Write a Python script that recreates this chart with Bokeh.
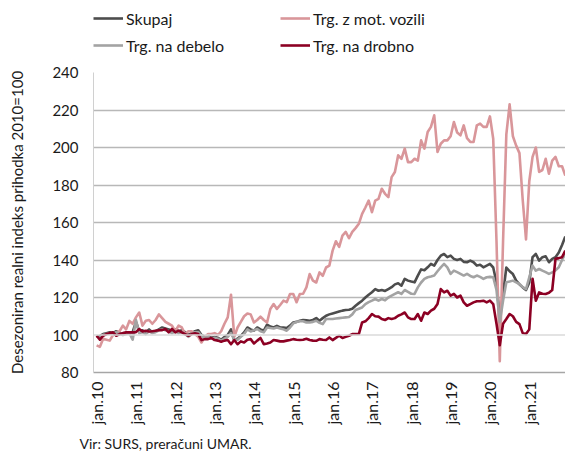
import math
from bokeh.plotting import figure
from bokeh.layouts import column
from bokeh.models import FixedTicker, Range1d, Legend, LegendItem, Span, Title
from bokeh.embed import file_html
from bokeh.resources import INLINE

# ---- data (monthly, jan 2010 - dec 2021) ----
months = list(range(144))
tick_pos = [0, 12, 24, 36, 48, 60, 72, 84, 96, 108, 120, 132]
tick_labels = ["jan.10", "jan.11", "jan.12", "jan.13", "jan.14", "jan.15",
               "jan.16", "jan.17", "jan.18", "jan.19", "jan.20", "jan.21"]
y_ticks = [80, 100, 120, 140, 160, 180, 200, 220, 240]

skupaj = [
    99, 99.5, 100.5, 101, 101.5, 101, 102, 101, 100.5, 101, 101.5, 101.5,
    107, 102, 102.5, 101.5, 103, 101.5, 102, 103, 104, 103.5, 103, 102,
    103, 102, 102.5, 101.5, 100, 101, 102, 102.5, 100, 99, 99.5, 98.5,
    99, 98.5, 97.5, 99, 100, 103, 97, 98, 99.5, 101.4, 104, 103,
    102.3, 104, 103, 102.3, 105.5, 104.5, 104, 104.9, 104, 104, 103.7, 105,
    106.7, 107, 107.6, 108, 107.8, 107.6, 108, 109, 107.6, 109, 110.3, 111,
    111.5, 112, 112.5, 113, 113.3, 113.5, 114, 115.6, 117, 118.3, 120, 121.5,
    122.8, 124.5, 123.6, 124, 123.5, 124.5, 125.5, 127, 127.6, 126.3, 129.9, 129,
    128.5, 128.1, 131.7, 135, 134.5, 136.1, 137.9, 137, 140, 142.3, 143.2, 141.5,
    142.3, 140.6, 140, 140.6, 139, 138.8, 139.7, 138.8, 137, 137.5, 136.1, 137,
    137.9, 136, 128, 109, 122, 136, 134, 132.5, 129, 127, 125.4, 124,
    128, 141.5, 143.2, 139.7, 141.5, 142, 138.8, 140.6, 141.5, 144, 148, 152.5,
]

mot_vozila = [
    94.5, 93.7, 98, 97.5, 97, 100, 101.5, 102, 105, 103, 107.5, 106,
    109.4, 112, 105, 107.6, 108, 106, 108, 111, 109, 107, 106, 105,
    102, 105, 104, 100.5, 102, 102, 100.5, 99, 96, 99, 100.5, 100.5,
    101, 100, 102, 106, 109.4, 121.5, 99, 104, 107, 110, 111.5, 111,
    106.7, 108, 109.8, 108, 106.7, 113.9, 116.5, 113.9, 116, 118.3, 117.5, 121.9,
    121.9, 117.5, 121.9, 122, 125.4, 132.5, 129, 128, 133.4, 131.6, 136, 137,
    145, 150, 147, 153, 155, 151.6, 155, 157, 159.3, 164.6, 168, 171.7,
    165.5, 171.7, 172.6, 178, 175.3, 173.5, 184.2, 186.9, 195.8, 194, 199.4, 192.2,
    192.2, 194, 193, 203.8, 199.4, 208.3, 211, 217.2, 197.6, 202, 203.8, 203.8,
    206, 213.6, 208, 206.5, 211.8, 205, 203, 202.9, 211.8, 212.7, 211, 211,
    216.6, 204.7, 150, 86, 150, 207, 223, 206, 201, 197, 172, 151,
    182, 195, 200, 187, 188, 194, 186, 193, 195, 190, 190, 185,
]

debelo = [
    99.5, 98.5, 100, 100.5, 101, 100.5, 101.5, 100.5, 100, 100.5, 101, 97.5,
    108, 101, 101.5, 100.5, 102, 101, 101.5, 102.5, 103, 102.5, 102, 101,
    102, 101, 101.5, 100.5, 99, 100.5, 101.5, 101.5, 99.5, 98.5, 99, 98,
    98.5, 98, 97, 98, 99, 101, 97.5, 97.5, 99, 100.5, 103, 101.9,
    102.5, 103.2, 102, 101.4, 104, 103.7, 103.5, 104, 103.5, 103, 102.3, 104,
    106.2, 107, 107.3, 107.3, 106.7, 106.7, 107, 107.6, 106.5, 105.8, 108.5, 108.5,
    108.5, 108.8, 109, 109.2, 109.4, 109.6, 111, 113.3, 114, 114.7, 116.5, 117.5,
    118.3, 119.2, 118.3, 119.2, 118.5, 120, 121, 121.9, 122.8, 121.9, 124, 123,
    122, 121.9, 125.4, 128, 129.9, 130.8, 131.2, 131.7, 134, 136.1, 137.9, 136.1,
    132.6, 134.3, 133.5, 132.6, 131.7, 132.6, 131.5, 130.8, 131.7, 131, 129.9, 130.8,
    131, 130.8, 124, 107, 118.3, 128.1, 128.5, 129, 128.1, 127.2, 125.5, 124.5,
    130.8, 137, 134.3, 135.2, 134.3, 133.5, 132.6, 133.4, 134.5, 136.1, 140, 143.5,
]

drobno = [
    99.6, 97.5, 99.6, 100.5, 101, 101.4, 99.6, 100.5, 101, 101.4, 101.4, 101.4,
    101.5, 103.2, 101.9, 102.3, 101.9, 102, 102.3, 102.5, 102.6, 103.2, 101.4, 103.2,
    101.4, 102.3, 101.4, 100.5, 99.6, 100.5, 100.9, 100.5, 97.3, 97.8, 97.8, 98.4,
    97.3, 97, 96.4, 97, 97.3, 95.1, 97.3, 95.1, 96.6, 96, 97.5, 97.8,
    95.5, 97, 98.4, 95.1, 95.5, 96, 97.3, 97, 96.6, 96.6, 97, 97.3,
    97.8, 97.5, 97.3, 97.5, 98, 97.3, 97, 96.9, 97.8, 97.5, 97.3, 98.7,
    97.3, 98.5, 99.6, 98.4, 99, 99.6, 100.5, 100.5, 100.5, 106.7, 107.3, 109,
    111.2, 110, 109.8, 108.5, 108, 109, 108.5, 109, 110.3, 111, 112, 109.4,
    108.5, 108.5, 111.2, 107.6, 112, 111.2, 113, 114, 116.5, 124.5, 122.7, 123.6,
    121, 121.9, 120, 121, 117.4, 115.6, 116.5, 117.4, 118, 118, 118.3, 117.4,
    118.3, 116.5, 106, 94.5, 106, 108.5, 111.2, 110, 107, 105.8, 101, 100.5,
    103, 130, 118.3, 122.7, 122, 121.9, 122.5, 124, 140.6, 141, 141.5, 145,
]

series_names = ["Skupaj", "Trg. z mot. vozili", "Trg. na debelo", "Trg. na drobno"]
series_colors = ["#4d4d4d", "#d9969a", "#a3a3a3", "#8c0023"]
series_data = [skupaj, mot_vozila, debelo, drobno]

FONT = "Lato"
TXT = "#1a1a1a"
LW = 2.6

# ---------------- legend strip (top) ----------------
# same series drawn in a strip whose y-range hides them; only the legend shows
pl = figure(width=565, height=64, output_backend="svg", toolbar_location=None,
            title=None, x_axis_type=None, y_axis_type=None,
            x_range=Range1d(-0.95, 143.05), y_range=Range1d(0, 1),
            min_border_left=93, min_border_right=0, min_border_top=0,
            min_border_bottom=0)
pl.outline_line_color = None
pl.xgrid.visible = False
pl.ygrid.visible = False
leg_rends = [pl.line(months, vals, line_color=c, line_width=LW)
             for vals, c in zip(series_data, series_colors)]

leg_style = dict(label_text_font=FONT, label_text_font_size="16px",
                 label_text_color=TXT, glyph_width=30, glyph_height=20,
                 label_height=20, label_standoff=3, spacing=7, padding=0,
                 margin=0, border_line_color=None, background_fill_alpha=0,
                 orientation="vertical")
leg1 = Legend(items=[LegendItem(label=series_names[0], renderers=[leg_rends[0]]),
                     LegendItem(label=series_names[2], renderers=[leg_rends[2]])],
              location=(0, 9), **leg_style)
leg2 = Legend(items=[LegendItem(label=series_names[1], renderers=[leg_rends[1]]),
                     LegendItem(label=series_names[3], renderers=[leg_rends[3]])],
              location=(187, 9), **leg_style)
pl.add_layout(leg1)
pl.add_layout(leg2)

# ---------------- main chart ----------------
p = figure(width=565, height=392, output_backend="svg", toolbar_location=None,
           title=None,
           x_range=Range1d(-0.95, 143.05), y_range=Range1d(80, 240),
           min_border_left=93, min_border_right=0, min_border_top=8,
           min_border_bottom=84)
p.outline_line_color = None
p.background_fill_color = "white"
p.border_fill_color = "white"

p.xaxis.ticker = FixedTicker(ticks=tick_pos)
p.xaxis.major_label_overrides = {t: l for t, l in zip(tick_pos, tick_labels)}
p.xaxis.major_label_orientation = math.pi / 2
p.xaxis.major_label_standoff = 9
p.xaxis.major_tick_out = 0
p.xaxis.major_tick_in = 0
p.xaxis.minor_tick_out = 0
p.xaxis.minor_tick_in = 0
p.xaxis.axis_line_color = "#a6a6a6"
p.xaxis.axis_line_width = 1.5
p.xaxis.major_label_text_font = FONT
p.xaxis.major_label_text_font_size = "16px"
p.xaxis.major_label_text_color = TXT

p.yaxis.ticker = FixedTicker(ticks=y_ticks)
p.yaxis.major_label_standoff = 15
p.yaxis.major_tick_out = 0
p.yaxis.major_tick_in = 0
p.yaxis.minor_tick_out = 0
p.yaxis.minor_tick_in = 0
p.yaxis.axis_line_color = "#d0d0d0"
p.yaxis.axis_line_width = 1
p.yaxis.major_label_text_font = FONT
p.yaxis.major_label_text_font_size = "15px"
p.yaxis.major_label_text_color = TXT
p.yaxis.axis_label = "Desezoniran realni indeks prihodka 2010=100"
p.yaxis.axis_label_standoff = 23
p.yaxis.axis_label_text_font = FONT
p.yaxis.axis_label_text_font_size = "15px"
p.yaxis.axis_label_text_font_style = "normal"
p.yaxis.axis_label_text_color = TXT

p.xgrid.visible = False
p.ygrid.ticker = FixedTicker(ticks=[t for t in y_ticks if t not in (80, 100)])
p.ygrid.grid_line_color = "#b8b8b8"
p.ygrid.grid_line_width = 1.3
p.add_layout(Span(location=100, dimension="width", line_color="#dadada", line_width=1.5))

for vals, col in zip(series_data, series_colors):
    p.line(months, vals, line_color=col, line_width=LW, line_join="round")

src = Title(text="Vir: SURS, preračuni UMAR.", align="left", offset=-14,
            text_font=FONT, text_font_size="14px",
            text_font_style="normal", text_color=TXT)
p.add_layout(src, "below")

layout = column(pl, p, spacing=0)
open("out.html", "w").write(file_html(layout, INLINE))
